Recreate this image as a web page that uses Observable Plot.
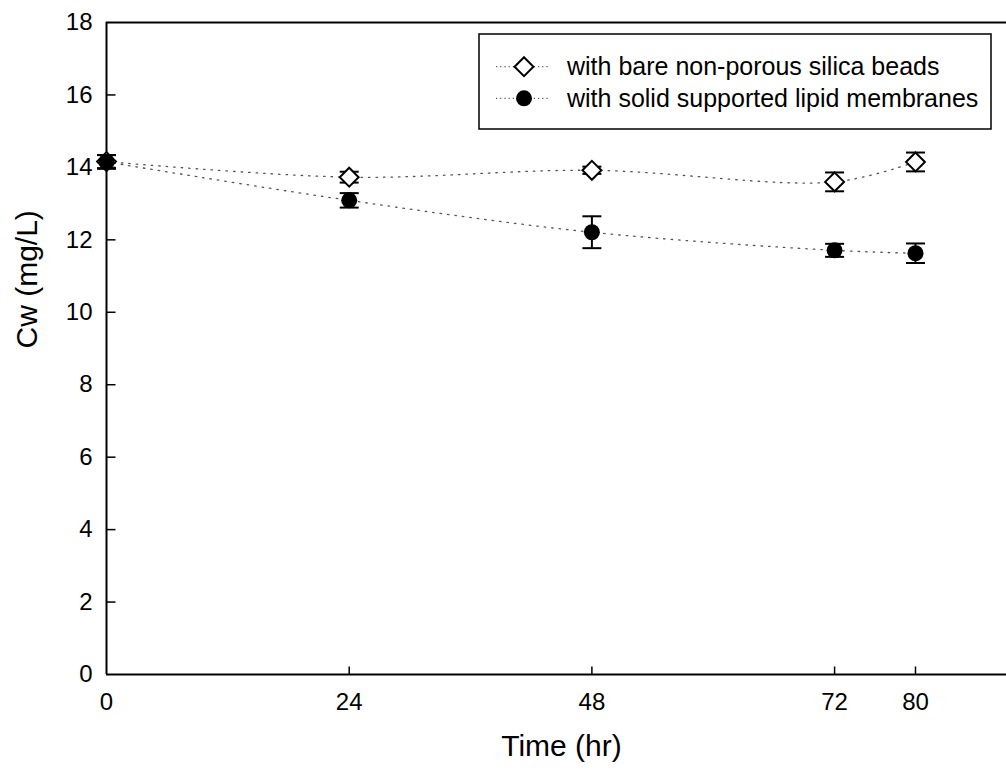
<!DOCTYPE html>
<html>
<head>
<meta charset="utf-8">
<script src="https://cdn.jsdelivr.net/npm/d3@7"></script>
<script src="https://cdn.jsdelivr.net/npm/@observablehq/plot@0.6"></script>
<style>
  body { margin: 0; background: white; }
  #chart { position: relative; width: 1006px; height: 771px; font-family: 'Liberation Sans', Arial, sans-serif; }
  #legend { position: absolute; left: 478px; top: 33px; }
</style>
</head>
<body>
<div id="chart"></div>
<script>
// Sampling times (hr)
const times = [0, 24, 48, 72, 80];
const xTicks = [0, 24, 48, 72, 80];
const yTicks = [0, 2, 4, 6, 8, 10, 12, 14, 16, 18];

const seriesNames = [
  "with bare non-porous silica beads",
  "with solid supported lipid membranes"
];
const xTitle = "Time (hr)";
const yTitle = "Cw (mg/L)";

// Cw (mg/L), mean and error
const beadsMean = [14.16, 13.73, 13.92, 13.60, 14.15];
const beadsErr  = [0.18, 0.15, 0.10, 0.26, 0.26];
const lipidMean = [14.15, 13.09, 12.21, 11.71, 11.63];
const lipidErr  = [0.19, 0.20, 0.44, 0.18, 0.27];

const toRows = (name, means, errs) => times.map((t, i) => ({
  series: name, t, mean: means[i], lo: means[i] - errs[i], hi: means[i] + errs[i]
}));
const beads = toRows(seriesNames[0], beadsMean, beadsErr);
const lipid = toRows(seriesNames[1], lipidMean, lipidErr);
const all = beads.concat(lipid);

// small line-segment symbols for error-bar caps and inward ticks
const capSymbol = { draw(ctx) { ctx.moveTo(-9.5, 0); ctx.lineTo(9.5, 0); } };
const yTickSymbol = { draw(ctx) { ctx.moveTo(0, 0); ctx.lineTo(9, 0); } };
const xTickSymbol = { draw(ctx) { ctx.moveTo(0, 0); ctx.lineTo(0, -8); } };

const errorBars = (rows) => [
  Plot.ruleX(rows, { x: "t", y1: "lo", y2: "hi", stroke: "black", strokeWidth: 2 }),
  Plot.dot(rows, { x: "t", y: "lo", symbol: capSymbol, r: 5, fill: "none", stroke: "black", strokeWidth: 2 }),
  Plot.dot(rows, { x: "t", y: "hi", symbol: capSymbol, r: 5, fill: "none", stroke: "black", strokeWidth: 2 })
];

const chart = Plot.plot({
  width: 1006,
  height: 771,
  marginLeft: 106,
  marginRight: 0,
  marginTop: 22,
  marginBottom: 97,
  style: {
    fontFamily: "'Liberation Sans', Arial, sans-serif",
    fontSize: "24px",
    color: "black",
    background: "white",
    overflow: "visible"
  },
  x: { domain: [0, 89], axis: null },
  y: { domain: [0, 18], axis: null },
  marks: [
    // plot frame (left, bottom, top)
    Plot.ruleX([0], { stroke: "black", strokeWidth: 2 }),
    Plot.ruleY([0, 18], { stroke: "black", strokeWidth: 2 }),
    // inward ticks
    Plot.dot(yTicks.filter(d => d > 0 && d < 18), { x: () => 0, y: d => d, symbol: yTickSymbol, r: 5, fill: "none", stroke: "black", strokeWidth: 1.5 }),
    Plot.dot(xTicks.filter(d => d > 0), { x: d => d, y: () => 0, symbol: xTickSymbol, r: 5, fill: "none", stroke: "black", strokeWidth: 1.5 }),
    // tick labels
    Plot.text(yTicks, { x: () => 0, y: d => d, text: d => String(d), dx: -14, textAnchor: "end", fontSize: 24, fill: "black" }),
    Plot.text(xTicks, { x: d => d, y: () => 0, text: d => String(d), dy: 28, fontSize: 24, fill: "black" }),
    // dotted connecting curves
    Plot.line(all, { x: "t", y: "mean", z: "series", curve: "catmull-rom", stroke: "#555", strokeWidth: 1.3, strokeDasharray: "1.5,6" }),
    ...errorBars(beads),
    Plot.dot(beads, { x: "t", y: "mean", symbol: "diamond2", r: 8.5, fill: "white", stroke: "black", strokeWidth: 2 }),
    ...errorBars(lipid),
    Plot.dot(lipid, { x: "t", y: "mean", symbol: "circle", r: 8, fill: "black", stroke: "none" }),
    // axis titles
    Plot.text([xTitle], { frameAnchor: "bottom", dx: 5, dy: 81, fontSize: 30, text: d => d }),
    Plot.text([yTitle], { frameAnchor: "left", dx: -79, rotate: -90, fontSize: 30, text: d => d })
  ]
});

const container = document.getElementById("chart");
container.appendChild(chart);

// legend box drawn over the upper right of the plot
const lw = 514, lh = 97;
const legend = d3.select(container).append("svg")
  .attr("id", "legend")
  .attr("width", lw)
  .attr("height", lh);
legend.append("rect")
  .attr("x", 1).attr("y", 1).attr("width", lw - 2).attr("height", lh - 2)
  .attr("fill", "white").attr("stroke", "black").attr("stroke-width", 1.5);

const rowY = [33.7, 65.3];
const symbols = [d3.symbolDiamond2, d3.symbolCircle];
seriesNames.forEach((name, i) => {
  const g = legend.append("g").attr("transform", `translate(0,${rowY[i]})`);
  g.append("line")
    .attr("x1", 18).attr("x2", 72).attr("y1", 0).attr("y2", 0)
    .attr("stroke", "#555").attr("stroke-width", 1.2).attr("stroke-dasharray", "1.2,3");
  const r = i === 0 ? 8.5 : 8;
  g.append("path")
    .attr("transform", "translate(46,0)")
    .attr("d", d3.symbol(symbols[i], Math.PI * r * r)())
    .attr("fill", i === 0 ? "white" : "black")
    .attr("stroke", i === 0 ? "black" : "none")
    .attr("stroke-width", 2);
  g.append("text")
    .attr("x", 89).attr("y", 8.5)
    .attr("font-family", "'Liberation Sans', Arial, sans-serif")
    .attr("font-size", 25)
    .attr("fill", "black")
    .text(name);
});
</script>
</body>
</html>
